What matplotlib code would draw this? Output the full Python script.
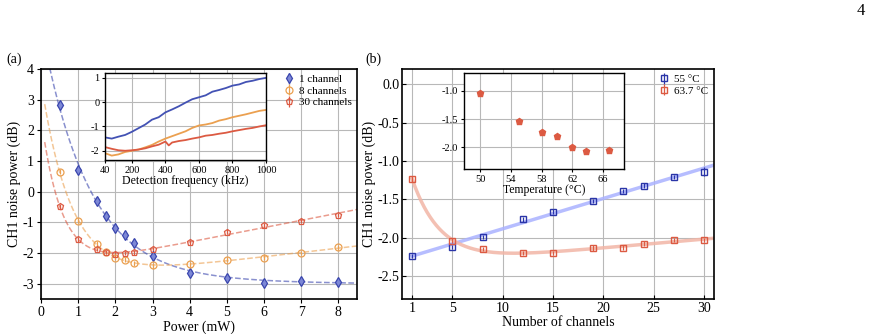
import numpy as np
import matplotlib
matplotlib.use('Agg')
import matplotlib.pyplot as plt

plt.rcParams['font.family'] = ['Liberation Serif', 'DejaVu Serif']
plt.rcParams['axes.unicode_minus'] = False

# Panel (a): noise power vs optical power
power = [0.5, 1, 1.5, 1.75, 2, 2.25, 2.5, 3, 4, 5, 6, 7, 8]
ch1 = [2.82, 0.72, -0.32, -0.78, -1.2, -1.4, -1.67, -2.1, -2.65, -2.8, -2.97, -2.92, -2.93]
ch8 = [0.65, -0.95, -1.7, -1.97, -2.15, -2.22, -2.33, -2.4, -2.37, -2.22, -2.15, -2.0, -1.82]
ch30 = [-0.47, -1.55, -1.86, -1.97, -2.03, -2.0, -1.98, -1.88, -1.65, -1.3, -1.1, -0.95, -0.77]
err_a = [0.08, 0.08, 0.08, 0.07, 0.08, 0.08, 0.08, 0.08, 0.08, 0.08, 0.07, 0.07, 0.07]

# Inset (a): noise vs detection frequency
freq = [40, 80, 120, 160, 200, 240, 280, 320, 360, 400, 420, 440, 480, 520, 560, 600,
        640, 680, 720, 760, 800, 840, 880, 920, 960, 1000]
sp1 = [-1.45, -1.5, -1.42, -1.35, -1.22, -1.07, -0.92, -0.72, -0.62, -0.42, -0.36, -0.3, -0.17,
       -0.02, 0.12, 0.2, 0.28, 0.43, 0.5, 0.58, 0.68, 0.73, 0.83, 0.88, 0.95, 1.0]
sp8 = [-2.1, -2.2, -2.15, -2.05, -2.0, -1.95, -1.86, -1.76, -1.62, -1.5, -1.45, -1.4, -1.3,
       -1.2, -1.06, -0.96, -0.92, -0.86, -0.76, -0.7, -0.62, -0.56, -0.5, -0.43, -0.36, -0.32]
sp30 = [-1.85, -1.92, -1.98, -2.0, -1.98, -1.95, -1.9, -1.82, -1.75, -1.62, -1.78, -1.66, -1.6,
        -1.56, -1.5, -1.45, -1.38, -1.35, -1.3, -1.26, -1.2, -1.15, -1.1, -1.06, -1.0, -0.95]

# Panel (b): noise vs number of channels
channels = [1, 5, 8, 12, 15, 19, 22, 24, 27, 30]
t55 = [-2.24, -2.12, -1.99, -1.76, -1.66, -1.52, -1.39, -1.32, -1.21, -1.14]
t637 = [-1.23, -2.04, -2.15, -2.2, -2.2, -2.14, -2.13, -2.08, -2.03, -2.03]
err55 = [0.03, 0.03, 0.03, 0.03, 0.03, 0.03, 0.03, 0.03, 0.03, 0.06]
err637 = [0.04, 0.03, 0.03, 0.03, 0.03, 0.04, 0.03, 0.03, 0.03, 0.03]

# Inset (b): noise vs temperature
temp = [50, 55, 58, 60, 62, 63.7, 66.7]
noise_t = [-1.04, -1.53, -1.72, -1.8, -1.99, -2.07, -2.05]
err_t = [0.03, 0.03, 0.05, 0.03, 0.03, 0.03, 0.03]

blue = '#3a46ae'
orange = '#eba050'
red = '#dc5a42'


def expfit(x, y):
    # y = A*exp(-x/tau) + B + C*x, tau by grid search
    x = np.asarray(x, float)
    y = np.asarray(y, float)
    best = None
    for tau in np.linspace(0.1, 6, 600):
        M = np.column_stack([np.exp(-x / tau), np.ones_like(x), x])
        coef = np.linalg.lstsq(M, y, rcond=None)[0]
        r = np.sum((M @ coef - y) ** 2)
        if best is None or r < best[0]:
            best = (r, tau, coef)
    _, tau, c = best
    return lambda t: c[0] * np.exp(-t / tau) + c[1] + c[2] * t


def style(ax, lw=1.2, size=10, direction='in'):
    ax.tick_params(direction=direction, labelsize=size, length=3, width=0.8, pad=2)
    ax.grid(True, color='#b8b8b8', lw=0.8)
    ax.set_axisbelow(True)
    for s in ax.spines.values():
        s.set_linewidth(lw)


fig = plt.figure(figsize=(8.76, 3.34), dpi=100)

# ---- panel (a)
ax1 = fig.add_axes([0.0468, 0.1048, 0.3607, 0.6886])
xx = np.linspace(0.1, 8.5, 400)
for y, c, m, mfc, lab in [(ch1, blue, 'd', '#7d88d6', '1 channel'),
                          (ch8, orange, 'o', 'none', '8 channels'),
                          (ch30, red, 'p', 'none', '30 channels')]:
    f = expfit(power, y)
    ax1.plot(xx, f(xx), '--', color=c, alpha=0.6, lw=1.1)
    ax1.errorbar(power, y, yerr=err_a, fmt=m, color=c, mec=c, mfc=mfc, ms=5,
                 mew=0.9, elinewidth=0.9, capsize=0, label=lab, zorder=3)
ax1.set_xlim(0, 8.5)
ax1.set_ylim(-3.5, 4)
ax1.set_xticks(range(0, 9))
ax1.set_yticks(range(-3, 5))
ax1.set_xlabel('Power (mW)', fontsize=10, labelpad=1)
ax1.set_ylabel('CH1 noise power (dB)', fontsize=10, labelpad=1)
style(ax1, direction='out')
ax1.legend(loc='upper right', frameon=False, fontsize=8, handlelength=1.0,
           handletextpad=0.4, borderaxespad=0.1, labelspacing=0.15)

ins1 = fig.add_axes([0.1199, 0.521, 0.1838, 0.2605])
ins1.plot(freq, sp1, color='#4352b4', lw=1.3)
ins1.plot(freq, sp8, color=orange, lw=1.3)
ins1.plot(freq, sp30, color=red, lw=1.3)
ins1.set_xlim(40, 1000)
ins1.set_ylim(-2.38, 1.2)
ins1.set_xticks([40, 200, 400, 600, 800, 1000])
ins1.set_yticks([-2, -1, 0, 1])
ins1.set_xlabel('Detection frequency (kHz)', fontsize=8.5, labelpad=0)
style(ins1, lw=1.0, size=7.5, direction='out')
ins1.tick_params(pad=1.5, length=2.5)

# ---- panel (b)
ax2 = fig.add_axes([0.4589, 0.1048, 0.3562, 0.6886])
xb = np.linspace(1, 31, 300)
lin = np.polyfit(channels, t55, 1)
ax2.plot(xb, np.polyval(lin, xb), color='#aab2ff', lw=2.5, alpha=0.85)
fb = expfit(channels, t637)
ax2.plot(xb, fb(xb), color='#f2b5a6', lw=2.5, alpha=0.85)
ax2.errorbar(channels, t55, yerr=err55, fmt='s', color='#2a35a8', mfc='none', ms=5,
             mew=1.0, elinewidth=0.9, capsize=0, label='55 °C', zorder=3)
ax2.errorbar(channels, t637, yerr=err637, fmt='s', color=red, mfc='none', ms=5,
             mew=1.0, elinewidth=0.9, capsize=0, label='63.7 °C', zorder=3)
ax2.set_xlim(0, 31)
ax2.set_ylim(-2.8, 0.2)
ax2.set_xticks([1, 5, 10, 15, 20, 25, 30])
ax2.set_yticks([0.0, -0.5, -1.0, -1.5, -2.0, -2.5])
ax2.set_yticklabels(['0.0', '-0.5', '-1.0', '-1.5', '-2.0', '-2.5'])
ax2.set_xlabel('Number of channels', fontsize=10, labelpad=1)
ax2.set_ylabel('CH1 noise power (dB)', fontsize=10, labelpad=1)
style(ax2)
ax2.legend(loc='upper right', frameon=False, fontsize=8, handlelength=1.0,
           handletextpad=0.4, borderaxespad=0.1, labelspacing=0.15)

ins2 = fig.add_axes([0.5297, 0.494, 0.1826, 0.2874])
ins2.errorbar(temp, noise_t, yerr=err_t, fmt='p', color=red, mfc=red, ms=5,
              elinewidth=0.9, capsize=0)
ins2.set_xlim(47.9, 68.7)
ins2.set_ylim(-2.38, -0.69)
ins2.set_xticks([50, 54, 58, 62, 66])
ins2.set_yticks([-1.0, -1.5, -2.0])
ins2.set_yticklabels(['-1.0', '-1.5', '-2.0'])
ins2.set_xlabel('Temperature (°C)', fontsize=8.5, labelpad=0)
style(ins2, lw=1.0, size=7.5, direction='out')
ins2.tick_params(pad=1.5, length=2.5)

fig.text(0.007, 0.811, '(a)', fontsize=10)
fig.text(0.417, 0.811, '(b)', fontsize=10)
fig.text(0.988, 0.955, '4', fontsize=12, ha='right')

fig.savefig('out.png', dpi=100)
